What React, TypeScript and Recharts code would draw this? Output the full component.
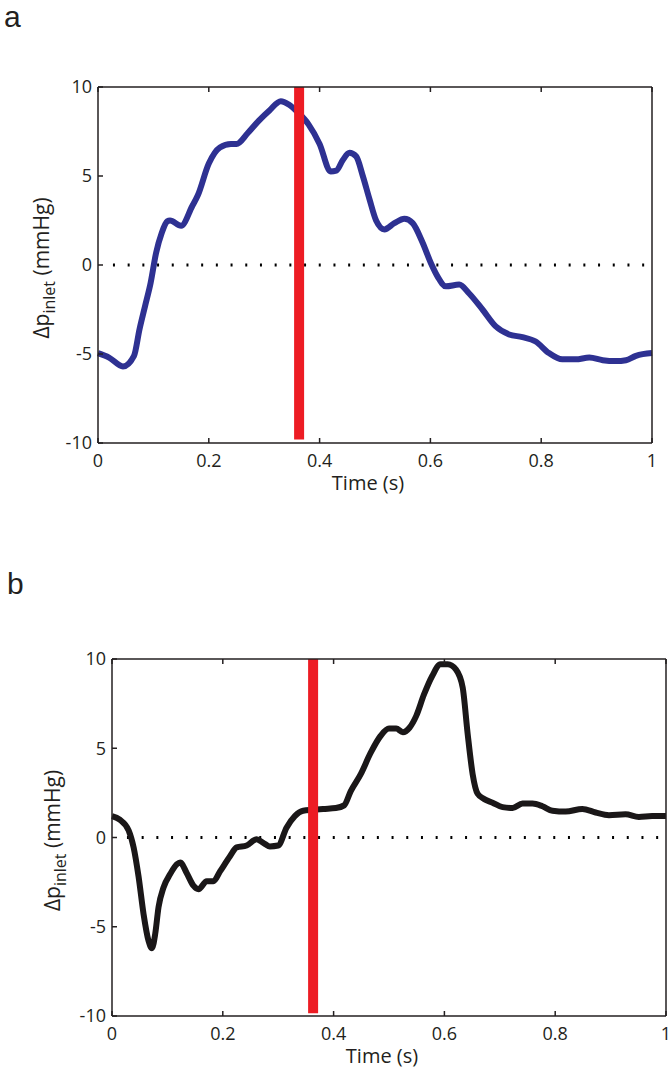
import { Line, LineChart, ReferenceLine, XAxis, YAxis } from "recharts";

// panel a: time (s) and inlet pressure difference (mmHg)
const timeA = [0, 0.02, 0.045, 0.065, 0.075, 0.085, 0.095, 0.105, 0.115, 0.125, 0.13, 0.15, 0.17, 0.18, 0.2, 0.22, 0.24, 0.25, 0.27, 0.29, 0.31, 0.33, 0.345, 0.36, 0.38, 0.4, 0.42, 0.43, 0.442, 0.454, 0.466, 0.478, 0.49, 0.502, 0.517, 0.535, 0.553, 0.568, 0.586, 0.601, 0.613, 0.628, 0.652, 0.67, 0.694, 0.718, 0.742, 0.766, 0.79, 0.814, 0.838, 0.862, 0.887, 0.911, 0.935, 0.953, 0.971, 1.0];
const pressA = [-4.95, -5.2, -5.7, -5.1, -3.6, -2.3, -1.0, 0.7, 1.8, 2.45, 2.5, 2.2, 3.3, 3.9, 5.7, 6.6, 6.8, 6.8, 7.4, 8.1, 8.7, 9.2, 9.0, 8.6, 7.9, 6.8, 5.25, 5.3, 5.9, 6.3, 6.1, 5.0, 3.7, 2.5, 2.0, 2.35, 2.6, 2.35, 1.25, 0.1, -0.65, -1.2, -1.1, -1.6, -2.5, -3.45, -3.9, -4.05, -4.3, -4.95, -5.3, -5.3, -5.2, -5.35, -5.4, -5.35, -5.1, -4.95];

// panel b
const timeB = [0, 0.014, 0.03, 0.039, 0.048, 0.057, 0.066, 0.072, 0.078, 0.084, 0.093, 0.105, 0.117, 0.123, 0.135, 0.147, 0.156, 0.171, 0.183, 0.195, 0.213, 0.225, 0.243, 0.261, 0.273, 0.285, 0.3, 0.315, 0.33, 0.345, 0.363, 0.381, 0.404, 0.419, 0.431, 0.449, 0.467, 0.485, 0.5, 0.513, 0.525, 0.537, 0.549, 0.563, 0.578, 0.593, 0.606, 0.621, 0.633, 0.642, 0.651, 0.66, 0.672, 0.687, 0.705, 0.723, 0.741, 0.759, 0.777, 0.795, 0.819, 0.849, 0.873, 0.897, 0.927, 0.951, 0.975, 1.0];
const pressB = [1.2, 1.0, 0.4, -0.55, -2.2, -4.3, -5.8, -6.2, -5.4, -3.9, -2.8, -2.05, -1.5, -1.4, -2.0, -2.7, -2.9, -2.45, -2.45, -1.9, -1.05, -0.55, -0.45, -0.1, -0.3, -0.5, -0.45, 0.55, 1.2, 1.5, 1.55, 1.6, 1.65, 1.8, 2.6, 3.55, 4.75, 5.7, 6.1, 6.1, 5.9, 6.15, 6.8, 8.0, 9.05, 9.7, 9.7, 9.4, 8.4, 5.8, 3.55, 2.45, 2.15, 1.95, 1.7, 1.65, 1.9, 1.9, 1.75, 1.5, 1.45, 1.6, 1.4, 1.25, 1.3, 1.15, 1.2, 1.2];

const xTicks = [0, 0.2, 0.4, 0.6, 0.8, 1];
const yTicks = [-10, -5, 0, 5, 10];
const markerTime = 0.363;

const FONT = "'Open Sans', sans-serif";
const INK = "#231f20";

function YLabel({ bx, cy }: { bx: number; cy: number }) {
  return (
    <text
      transform={`translate(${bx},${cy}) rotate(-90)`}
      textAnchor="middle"
      fontFamily={FONT}
      fontSize={21}
      fill={INK}
    >
      Δp
      <tspan fontSize={16} dy={6}>inlet</tspan>
      <tspan dy={-6}> (mmHg)</tspan>
    </text>
  );
}

function Panel(props: {
  time: number[];
  press: number[];
  color: string;
  top: number;
  height: number;
  margin: { top: number; right: number; bottom: number; left: number };
  labelX: number;
  markerBottom: number;
}) {
  const data = props.time.map((t, i) => ({ t, v: props.press[i] }));
  const tick = { fontSize: 18, fill: INK, fontFamily: FONT };
  return (
    <div style={{ position: "absolute", left: 0, top: props.top }}>
      <LineChart width={672} height={props.height} data={data} margin={props.margin}>
        <XAxis
          dataKey="t"
          type="number"
          domain={[0, 1]}
          ticks={xTicks}
          tick={tick}
          tickSize={-5}
          tickMargin={16}
          height={40}
          stroke={INK}
          strokeWidth={1.5}
          label={{
            content: (p: any) => (
              <text
                x={p.viewBox.x + p.viewBox.width / 2 - 7}
                y={p.viewBox.y + 47}
                textAnchor="middle"
                fontFamily={FONT}
                fontSize={20}
                fill={INK}
              >
                Time (s)
              </text>
            ),
          }}
        />
        <XAxis
          xAxisId="top"
          orientation="top"
          dataKey="t"
          type="number"
          domain={[0, 1]}
          ticks={xTicks}
          tickFormatter={() => ""}
          tickSize={-5}
          height={1}
          stroke={INK}
          strokeWidth={1.5}
        />
        <YAxis
          type="number"
          domain={[-10, 10]}
          ticks={yTicks}
          tick={tick}
          tickSize={-5}
          tickMargin={11}
          width={50}
          stroke={INK}
          strokeWidth={1.5}
          label={{
            content: (p: any) => (
              <YLabel bx={props.labelX} cy={p.viewBox.y + p.viewBox.height / 2 + 3} />
            ),
          }}
        />
        <YAxis
          yAxisId="right"
          orientation="right"
          type="number"
          domain={[-10, 10]}
          ticks={yTicks}
          tickFormatter={() => ""}
          tickSize={-5}
          width={1}
          stroke={INK}
          strokeWidth={1.5}
        />
        <ReferenceLine
          segment={[
            { x: 0.027, y: 0 },
            { x: 0.986, y: 0 },
          ]}
          stroke="#000"
          strokeWidth={3}
          strokeDasharray="2 12.7"
        />
        <Line
          type="monotone"
          dataKey="v"
          stroke={props.color}
          strokeWidth={6}
          dot={false}
          isAnimationActive={false}
        />
        <ReferenceLine
          segment={[
            { x: markerTime, y: 10 },
            { x: markerTime, y: props.markerBottom },
          ]}
          stroke="#ed1c24"
          strokeWidth={10}
        />
      </LineChart>
    </div>
  );
}

export default function App() {
  const letter = {
    position: "absolute" as const,
    fontFamily: "'Liberation Sans', sans-serif",
    fontSize: 30,
    lineHeight: "normal",
    color: INK,
  };
  return (
    <div style={{ position: "absolute", left: 0, top: 0, width: 672, height: 1071, background: "#fff" }}>
      <div style={{ ...letter, left: 4, top: 0 }}>a</div>
      <div style={{ ...letter, left: 7, top: 567 }}>b</div>
      <Panel
        time={timeA}
        press={pressA}
        color="#2e3192"
        top={0}
        height={520}
        margin={{ top: 86, right: 19, bottom: 37, left: 48 }}
        labelX={49}
        markerBottom={-9.8}
      />
      <Panel
        time={timeB}
        press={pressB}
        color="#1a1718"
        top={560}
        height={511}
        margin={{ top: 98, right: 5, bottom: 15, left: 62 }}
        labelX={60}
        markerBottom={-9.85}
      />
    </div>
  );
}
